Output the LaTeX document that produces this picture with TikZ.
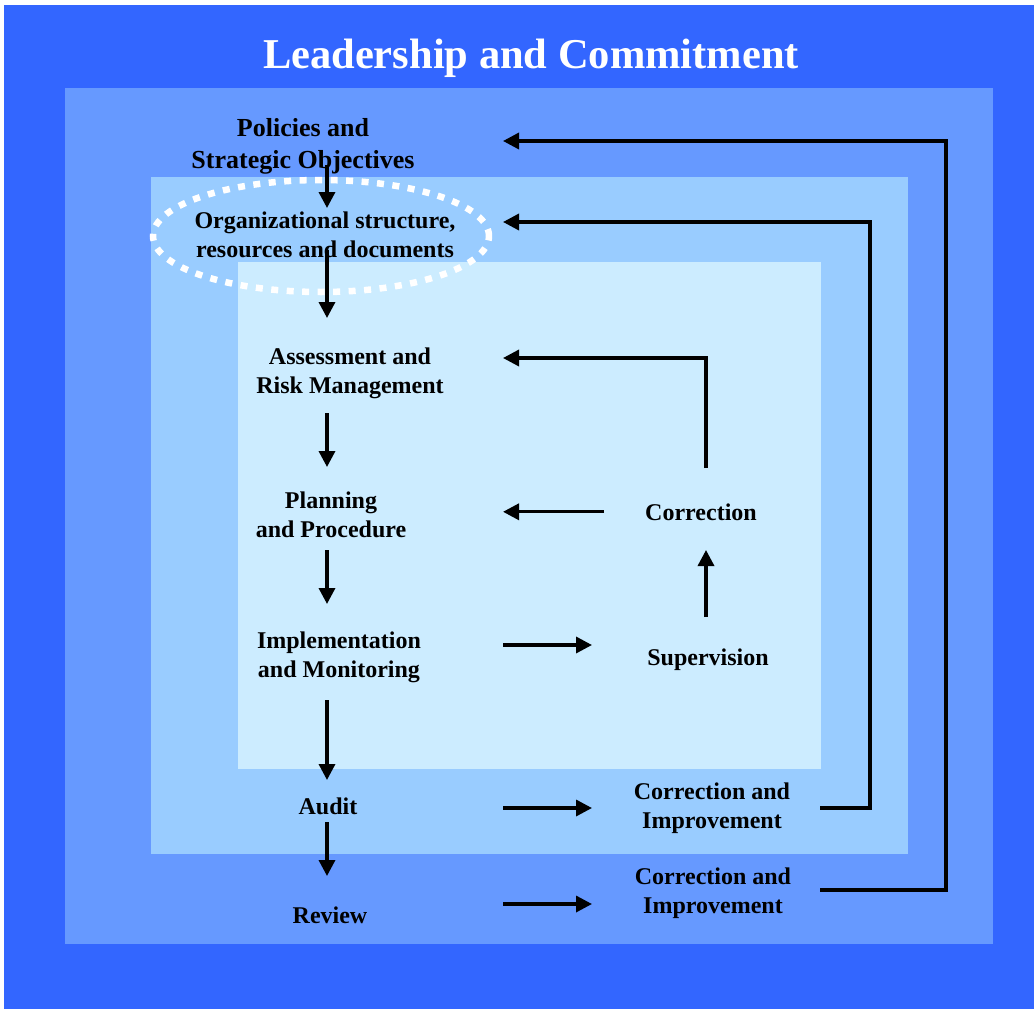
\documentclass[tikz,border=0pt]{standalone}
\usepackage{fontspec}
\setmainfont{Liberation Serif}
\usetikzlibrary{arrows.meta,calc}
\definecolor{leadblue}{HTML}{3366FF}
\definecolor{polblue}{HTML}{6699FF}
\definecolor{orgblue}{HTML}{99CCFF}
\definecolor{opblue}{HTML}{CCECFF}
\tikzset{
  lbl/.style={font=\bfseries\fontsize{24}{28.5}\selectfont, align=center, inner sep=0pt, anchor=base},
  arr/.style={line width=3.4pt, line join=miter, -{Triangle[length=16pt,width=16pt]}},
}
\begin{document}
\begin{tikzpicture}[x=1pt,y=-1pt]
                \useasboundingbox (0,0) rectangle (1034,1009);
                \fill [white] (0,0) rectangle (1034,1009);
                \fill [leadblue] (4,5) rectangle (1034,1009);
                \fill [polblue] (65,88) rectangle (993,944);
                \fill [orgblue] (151,177) rectangle (908,854);
                \fill [opblue] (238,262) rectangle (821,769);
                \draw [white, line width=6.5pt, dash pattern=on 7pt off 8.5pt] (321,236) ellipse [x radius=168pt, y radius=56pt];

                \node [font=\bfseries\fontsize{42.5}{50}\selectfont, text=white, inner sep=0pt, anchor=base] (title) at (531,68) {Leadership and Commitment};
                \node [lbl, font=\bfseries\fontsize{26}{32}\selectfont] (pol) at (303,168) {Policies and\\Strategic Objectives};
                \node [lbl] (org) at (325,257) {Organizational structure,\\resources and documents};
                \node [lbl] (ass) at (350,393) {Assessment and\\Risk Management};
                \node [lbl] (pla) at (331,537) {Planning\\and Procedure};
                \node [lbl] (imp) at (339,677) {Implementation\\and Monitoring};
                \node [lbl] (aud) at (328,814) {Audit};
                \node [lbl] (rev) at (330,923) {Review};
                \node [lbl] (cor) at (701,520) {Correction};
                \node [lbl] (sup) at (708,665) {Supervision};
                \node [lbl] (cia) at (712,828) {Correction and\\Improvement};
                \node [lbl] (cib) at (713,913) {Correction and\\Improvement};

                \coordinate (lcol) at (327,0);
                \coordinate (rcol) at (503,0);
                \coordinate (mcol) at (592,0);
                \coordinate (ccol) at (706,0);
                \coordinate (ecol) at (820,0);
                \coordinate (iloop) at (870,0);
                \coordinate (oloop) at (946,0);

                \draw [arr] ($(lcol |- pol.base)+(0,-3)$) -- ($(lcol |- org.base)+(0,-49)$);
                \draw [arr] ($(lcol |- org.base)+(0,-7)$) -- ($(lcol |- ass.base)+(0,-75)$);
                \draw [arr] ($(lcol |- ass.base)+(0,20)$) -- ($(lcol |- pla.base)+(0,-70)$);
                \draw [arr] ($(lcol |- pla.base)+(0,13)$) -- ($(lcol |- imp.base)+(0,-73)$);
                \draw [arr] ($(lcol |- imp.base)+(0,23)$) -- ($(lcol |- aud.base)+(0,-34)$);
                \draw [arr] ($(lcol |- aud.base)+(0,8)$) -- ($(lcol |- rev.base)+(0,-47)$);

                \draw [arr] ($(rcol |- imp.base)+(0,-32)$) -- ($(mcol |- imp.base)+(0,-32)$);
                \draw [arr] ($(ccol |- sup.base)+(0,-48)$) -- ($(ccol |- cor.base)+(0,30)$);
                \draw [arr] ($(cor.west)+(-41,0)$) -- (rcol |- cor.west);
                \draw [arr] ($(ccol |- cor.base)+(0,-52)$) -- ($(ccol |- ass.base)+(0,-35)$) -- ($(rcol |- ass.base)+(0,-35)$);
                \draw [arr] ($(rcol |- aud.base)+(0,-6)$) -- ($(mcol |- aud.base)+(0,-6)$);
                \draw [arr] ($(rcol |- rev.base)+(0,-19)$) -- ($(mcol |- rev.base)+(0,-19)$);

                \draw [arr] ($(ecol |- cia.base)+(0,-20)$) -- ($(iloop |- cia.base)+(0,-20)$) -- ($(iloop |- org.base)+(0,-35)$) -- ($(rcol |- org.base)+(0,-35)$);
                \draw [arr] ($(ecol |- cib.base)+(0,-23)$) -- ($(oloop |- cib.base)+(0,-23)$) -- ($(oloop |- pol.base)+(0,-27)$) -- ($(rcol |- pol.base)+(0,-27)$);
            \end{tikzpicture}
\end{document}
